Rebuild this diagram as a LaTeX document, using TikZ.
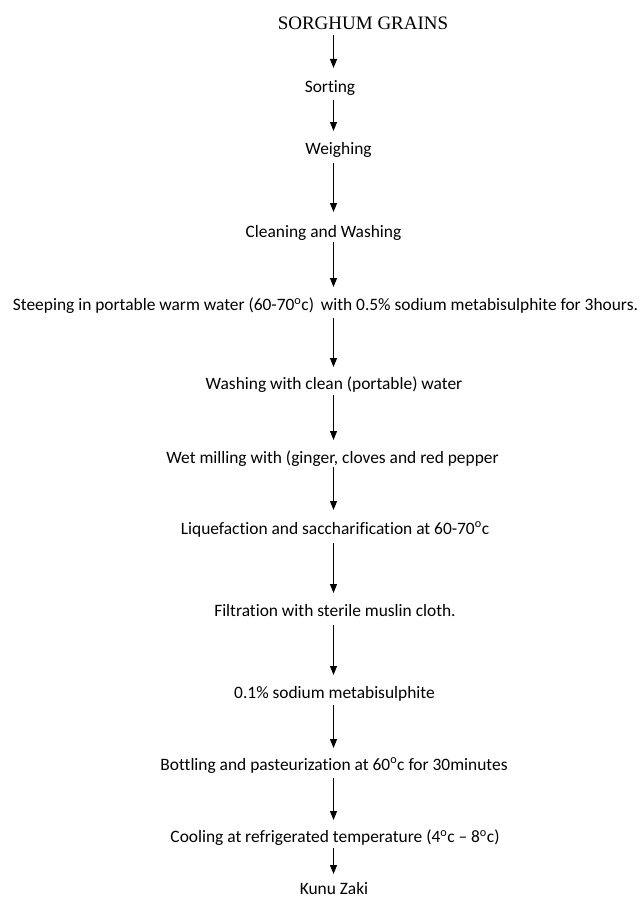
\documentclass[tikz,border=0pt]{standalone}
\usepackage{fontspec}
\setmainfont{Carlito}[Ligatures=NoCommon]
\newfontfamily\titlefont{Liberation Serif}
\usetikzlibrary{arrows.meta}
\begin{document}
\begin{tikzpicture}[x=1pt,y=-1pt,
  lbl/.style={inner sep=0pt,anchor=center,font=\fontsize{17.4}{20}\selectfont},
  arr/.style={line width=0.8pt,-{Triangle[width=7pt,length=9pt]}}]
\useasboundingbox[fill=white] (0,0) rectangle (640,899);
\node[inner sep=0pt,font=\titlefont\fontsize{19}{22}\selectfont] (n0) at (363,23) {SORGHUM GRAINS};
\node[lbl] (n1) at (330,88.5) {Sorting};
\node[lbl] (n2) at (338.5,150) {Weighing};
\node[lbl] (n3) at (323.5,232.5) {Cleaning and Washing};
\node[lbl] (n4) at (325.5,305.5) {Steeping in portable warm water (60-70\textsuperscript{o}c)\, with 0.5\% sodium metabisulphite for 3hours.};
\node[lbl] (n5) at (334,384.5) {Washing with clean (portable) water};
\node[lbl] (n6) at (332.5,458.5) {Wet milling with (ginger, cloves and red pepper};
\node[lbl] (n7) at (335,529.5) {Liquefaction and saccharification at 60-70\textsuperscript{o}c};
\node[lbl] (n8) at (335,610.5) {Filtration with sterile muslin cloth.};
\node[lbl] (n9) at (334.5,693.5) {0.1\% sodium metabisulphite};
\node[lbl] (n10) at (334,765.5) {Bottling and pasteurization at 60\textsuperscript{o}c for 30minutes};
\node[lbl] (n11) at (335,837.5) {Cooling at refrigerated temperature (4\textsuperscript{o}c -- 8\textsuperscript{o}c)};
\node[lbl] (n12) at (334,888.5) {Kunu Zaki};
\coordinate (a0s) at (333.5,35);  \coordinate (a0e) at (333.5,68);
\coordinate (a1s) at (333.5,100); \coordinate (a1e) at (333.5,131);
\coordinate (a2s) at (333.5,163); \coordinate (a2e) at (333.5,212);
\coordinate (a3s) at (333.5,242); \coordinate (a3e) at (333.5,287);
\coordinate (a4s) at (333.5,318); \coordinate (a4e) at (333.5,367);
\coordinate (a5s) at (333.5,395); \coordinate (a5e) at (333.5,440);
\coordinate (a6s) at (333.5,467); \coordinate (a6e) at (333.5,510);
\coordinate (a7s) at (333.5,543); \coordinate (a7e) at (333.5,593);
\coordinate (a8s) at (333.5,625); \coordinate (a8e) at (333.5,675);
\coordinate (a9s) at (333.5,705); \coordinate (a9e) at (333.5,748);
\coordinate (a10s) at (333.5,778); \coordinate (a10e) at (333.5,820);
\coordinate (a11s) at (333.5,848); \coordinate (a11e) at (333.5,874);
\foreach \i in {0,...,11} {\draw[arr] (a\i s) -- (a\i e);}
\end{tikzpicture}
\end{document}
